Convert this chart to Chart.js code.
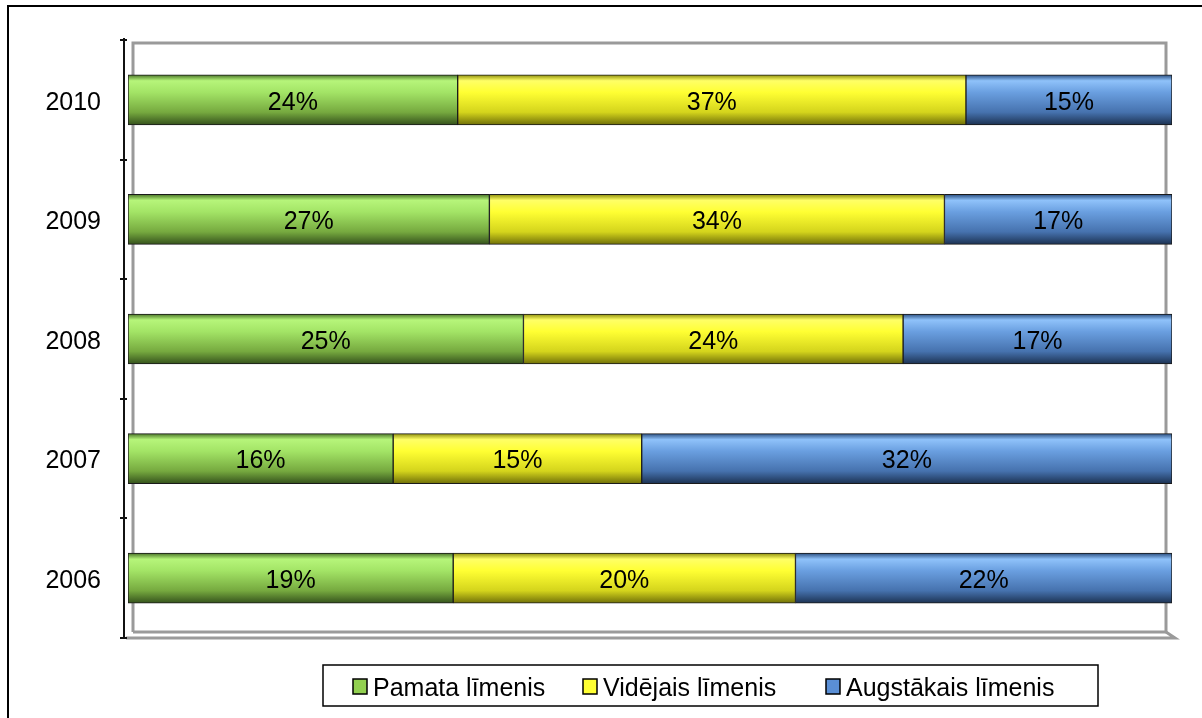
<!DOCTYPE html>
<html lang="lv">
<head>
  <meta charset="UTF-8" />
  <title>Līmeņi pa gadiem</title>
  <script src="https://cdn.jsdelivr.net/npm/chart.js"></script>
  <style>
    html, body { margin: 0; padding: 0; background: #fff; }
    #wrap { width: 1202px; height: 718px; position: relative; }
  </style>
</head>
<body>
  <div id="wrap"><canvas id="levelsChart"></canvas></div>

  <script>
    const years = ['2010', '2009', '2008', '2007', '2006'];
    const seriesNames = ['Pamata līmenis', 'Vidējais līmenis', 'Augstākais līmenis'];
    const pamata = [24, 27, 25, 16, 19];
    const videjais = [37, 34, 24, 15, 20];
    const augstakais = [15, 17, 17, 32, 22];

    const rawSeries = [pamata, videjais, augstakais];
    // each bar is drawn as full width (100% stacked), labels keep the raw numbers
    const totals = years.map((y, i) => rawSeries.reduce((s, arr) => s + arr[i], 0));

    const palette = [
      { stops: ['#4a7428', '#b6f57a', '#a3e466', '#76a93f', '#35521c'], key: '#92d050' },
      { stops: ['#8f8f0c', '#ffff66', '#ffff33', '#d4d41c', '#707008'], key: '#ffff33' },
      { stops: ['#2a4e80', '#8fc2fa', '#6a9fe0', '#4672ae', '#1c3252'], key: '#5a8fd6' }
    ];

    function barFill(idx) {
      return function (ctx) {
        const chart = ctx.chart;
        const ys = chart.scales && chart.scales.y;
        if (!ys || !chart.chartArea || ctx.dataIndex === undefined) return palette[idx].key;
        const c = ys.getPixelForValue(ctx.dataIndex);
        const g = chart.ctx.createLinearGradient(0, c - 25, 0, c + 25);
        const s = palette[idx].stops;
        g.addColorStop(0, s[0]);
        g.addColorStop(0.12, s[1]);
        g.addColorStop(0.35, s[2]);
        g.addColorStop(0.75, s[3]);
        g.addColorStop(1, s[4]);
        return g;
      };
    }

    const datasets = rawSeries.map((arr, k) => ({
      label: seriesNames[k],
      data: arr.map((v, i) => v / totals[i] * 100),
      raw: arr,
      backgroundColor: barFill(k),
      borderColor: '#1a1a1a',
      borderWidth: 1,
      borderSkipped: false,
      barThickness: 50
    }));

    const FONT = '"Liberation Sans", Arial, sans-serif';

    const chromePlugin = {
      id: 'chrome',
      beforeDraw(chart) {
        const c = chart.ctx;
        const a = chart.chartArea;
        c.save();
        // outer frame
        c.strokeStyle = '#000';
        c.lineWidth = 2;
        c.strokeRect(8, 6, 1210, 730);
        // back wall and floor (3d look)
        c.strokeStyle = '#9a9a9a';
        c.lineWidth = 3;
        c.beginPath();
        c.moveTo(a.left + 5, a.bottom - 6);
        c.lineTo(a.left + 5, a.top + 3);
        c.lineTo(a.right - 6, a.top + 3);
        c.lineTo(a.right - 6, a.bottom - 6);
        c.lineTo(a.left + 5, a.bottom - 6);
        c.stroke();
        c.beginPath();
        c.moveTo(a.left - 2, a.bottom);
        c.lineTo(a.right + 3, a.bottom);
        c.lineTo(a.right - 6, a.bottom - 6);
        c.stroke();
        // front value axis with category tick marks
        c.strokeStyle = '#111';
        c.lineWidth = 2;
        const ax = a.left - 4;
        c.beginPath();
        c.moveTo(ax, a.top - 2);
        c.lineTo(ax, a.bottom);
        const step = (a.bottom - a.top) / years.length;
        for (let i = 0; i <= years.length; i++) {
          const y = Math.round(a.top + i * step);
          c.moveTo(ax - 4, y);
          c.lineTo(ax + 3, y);
        }
        c.stroke();
        c.restore();
      },
      afterDatasetsDraw(chart) {
        const c = chart.ctx;
        c.save();
        c.font = '25px ' + FONT;
        c.fillStyle = '#000';
        c.textAlign = 'center';
        c.textBaseline = 'middle';
        chart.data.datasets.forEach((ds, k) => {
          chart.getDatasetMeta(k).data.forEach((bar, i) => {
            const cx = (bar.x + bar.base) / 2;
            c.fillText(ds.raw[i] + '%', cx, bar.y + 3);
          });
        });
        // legend box
        c.fillStyle = '#fff';
        c.fillRect(323, 665, 775, 41);
        c.strokeStyle = '#000';
        c.lineWidth = 1.5;
        c.strokeRect(323, 665, 775, 41);
        c.textAlign = 'left';
        const xs = [353, 583, 826];
        chart.data.datasets.forEach((ds, k) => {
          c.fillStyle = palette[k].key;
          c.fillRect(xs[k], 679, 14, 15);
          c.strokeStyle = '#000';
          c.lineWidth = 1.5;
          c.strokeRect(xs[k], 679, 14, 15);
          c.fillStyle = '#000';
          c.fillText(ds.label, xs[k] + 20, 689);
        });
        c.restore();
      }
    };

    new Chart(document.getElementById('levelsChart'), {
      type: 'bar',
      data: { labels: years, datasets: datasets },
      plugins: [chromePlugin],
      options: {
        indexAxis: 'y',
        responsive: true,
        maintainAspectRatio: false,
        animation: false,
        layout: { padding: { top: 40, right: 30, bottom: 80, left: 0 } },
        plugins: {
          legend: { display: false },
          tooltip: { enabled: false }
        },
        scales: {
          x: { stacked: true, min: 0, max: 100, display: false },
          y: {
            stacked: true,
            grid: { display: false },
            border: { display: false },
            afterFit(scale) { scale.width = 128; },
            ticks: {
              padding: 19,
              labelOffset: 3,
              color: '#000',
              font: { family: FONT, size: 25 }
            }
          }
        }
      }
    });
  </script>
</body>
</html>
